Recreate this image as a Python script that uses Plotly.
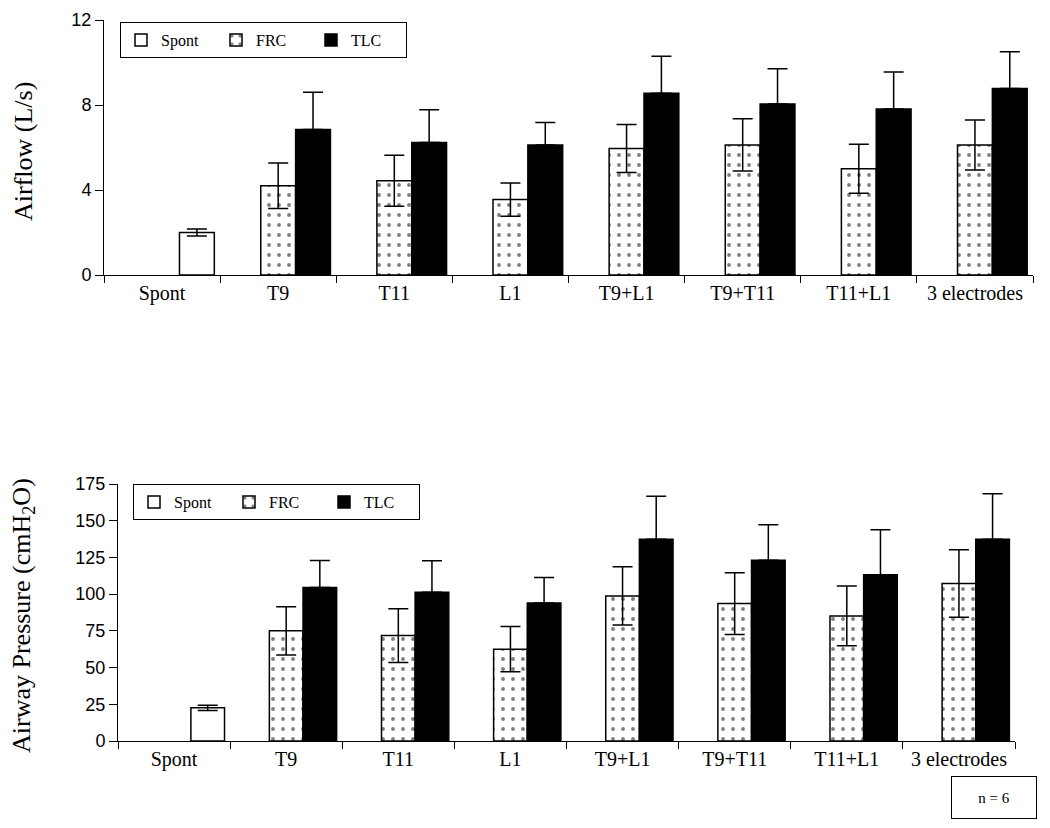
import plotly.graph_objects as go

cats = ["Spont", "T9", "T11", "L1", "T9+L1", "T9+T11", "T11+L1", "3 electrodes"]
stim = cats[1:]

# Airflow (L/s)
spont_flow = [2.0]
spont_flow_err = [0.17]
frc_flow = [4.2, 4.43, 3.55, 5.95, 6.12, 5.0, 6.12]
frc_flow_err = [1.07, 1.2, 0.78, 1.13, 1.23, 1.15, 1.18]
tlc_flow = [6.85, 6.24, 6.12, 8.55, 8.05, 7.81, 8.78]
tlc_flow_err = [1.75, 1.54, 1.06, 1.75, 1.66, 1.74, 1.73]

# Airway pressure (cmH2O)
spont_p = [22.6]
spont_p_err = [1.8]
frc_p = [75.0, 71.8, 62.5, 98.8, 93.6, 85.2, 107.3]
frc_p_err = [16.5, 18.3, 15.4, 19.8, 21.0, 20.4, 23.0]
tlc_p = [104.5, 101.3, 94.0, 137.3, 123.0, 113.2, 137.3]
tlc_p_err = [18.4, 21.5, 17.3, 29.4, 24.3, 30.6, 31.0]

SERIF = "Liberation Serif"
SANS = "Liberation Sans"
W = 0.3

# page body has an 8px margin; figure sized to fit the viewport
FW, FH = 1034, 812
OFF = 8


def px(X):
    return (X - OFF) / FW


def py(Y):
    return 1 - (Y - OFF) / FH


fig = go.Figure()


def add_panel(xa, ya, leg, sp, sp_e, frc, frc_e, tlc, tlc_e):
    eb = dict(type="data", color="black", thickness=1.5, width=10)
    fig.add_trace(go.Bar(
        x=["Spont"], y=sp, name="Spont", xaxis=xa, yaxis=ya, legend=leg,
        width=W, offset=W / 2,
        marker=dict(color="white", line=dict(color="black", width=1.5)),
        error_y=dict(array=sp_e, **eb)))
    fig.add_trace(go.Bar(
        x=stim, y=frc, name="FRC", xaxis=xa, yaxis=ya, legend=leg,
        width=W, offset=-W / 2,
        marker=dict(color="white", line=dict(color="black", width=1.5),
                    pattern=dict(shape=".", fgcolor="black", bgcolor="white",
                                 size=10, solidity=0.12)),
        error_y=dict(array=frc_e, **eb)))
    fig.add_trace(go.Bar(
        x=stim, y=tlc, name="TLC", xaxis=xa, yaxis=ya, legend=leg,
        width=W, offset=W / 2,
        marker=dict(color="black", line=dict(color="black", width=1.5)),
        error_y=dict(array=tlc_e, arrayminus=[0] * len(tlc_e), symmetric=False, **eb)))


add_panel("x", "y", "legend", spont_flow, spont_flow_err, frc_flow, frc_flow_err, tlc_flow, tlc_flow_err)
add_panel("x2", "y2", "legend2", spont_p, spont_p_err, frc_p, frc_p_err, tlc_p, tlc_p_err)

xcommon = dict(type="category", categoryorder="array", categoryarray=cats,
               range=[-0.5, 7.5], showline=True, linecolor="black", linewidth=1,
               ticks="outside", tickson="boundaries", ticklen=7, tickcolor="black",
               showgrid=False, zeroline=False, automargin=False,
               tickfont=dict(family=SERIF, size=20, color="black"))
ycommon = dict(showline=True, linecolor="black", linewidth=1, ticks="outside",
               ticklen=8, tickcolor="black", showgrid=False, zeroline=False,
               automargin=False, tickfont=dict(family=SANS, size=18, color="black"))

legcommon = dict(orientation="h", bordercolor="black", borderwidth=1,
                 bgcolor="white", font=dict(family=SERIF, size=16, color="black"),
                 xanchor="left", yanchor="top", entrywidth=50, entrywidthmode="pixels",
                 itemclick=False)

fig.update_layout(
    width=FW, height=FH,
    margin=dict(l=0, r=0, t=0, b=0),
    paper_bgcolor="white", plot_bgcolor="white",
    barmode="overlay",
    showlegend=True,
    xaxis=dict(domain=[px(104), px(1033)], anchor="y", **xcommon),
    yaxis=dict(domain=[py(275), py(20)], anchor="x", range=[0, 12],
               tickvals=[0, 4, 8, 12], **ycommon),
    xaxis2=dict(domain=[px(118), px(1015)], anchor="y2", **xcommon),
    yaxis2=dict(domain=[py(741), py(484)], anchor="x2", range=[0, 175],
                dtick=25, **ycommon),
    legend=dict(x=px(120), y=py(22), **legcommon),
    legend2=dict(x=px(133), y=py(484), **legcommon),
    annotations=[
        dict(text="Airflow (L/s)", textangle=-90, x=px(23), y=py(152),
             xanchor="center", yanchor="middle",
             xref="paper", yref="paper", showarrow=False,
             font=dict(family=SERIF, size=26, color="black")),
        dict(text="Airway Pressure (cmH<sub>2</sub>O)", textangle=-90,
             x=px(23), y=py(616), xanchor="center", yanchor="middle",
             xref="paper", yref="paper", showarrow=False,
             font=dict(family=SERIF, size=26, color="black")),
        dict(text="n = 6", x=px(994), y=py(797.5), xanchor="center", yanchor="middle",
             xref="paper", yref="paper",
             showarrow=False, bordercolor="black", borderwidth=1, borderpad=2,
             width=80, height=37, bgcolor="white",
             font=dict(family=SERIF, size=15, color="black")),
    ],
)

fig.write_html("out.html")
